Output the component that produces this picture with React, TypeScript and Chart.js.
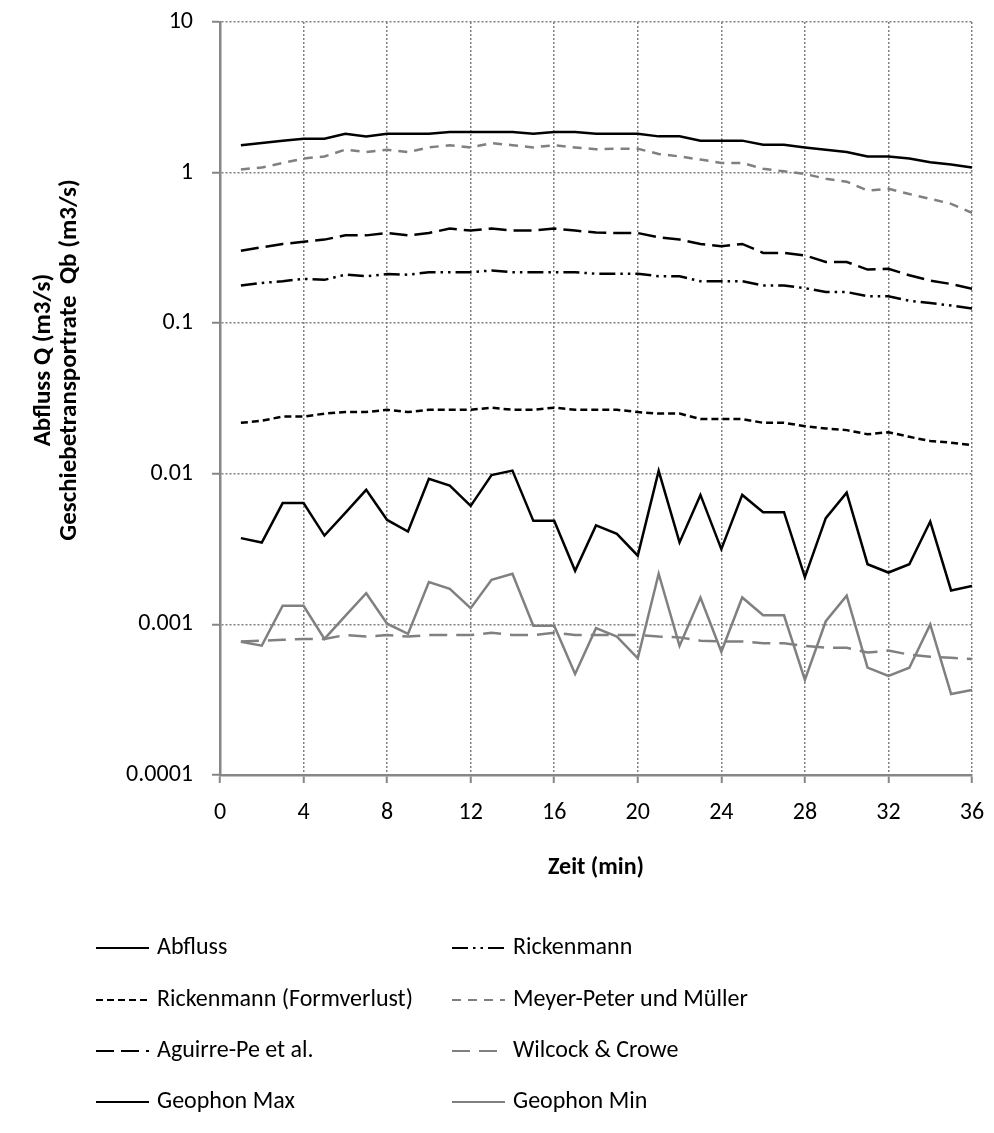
import React, { useEffect, useRef } from "react";
import { Chart, registerables } from "chart.js";

Chart.register(...registerables);

// ---- data ----
const zeit = [1, 2, 3, 4, 5, 6, 7, 8, 9, 10, 11, 12, 13, 14, 15, 16, 17, 18, 19, 20, 21, 22, 23, 24, 25, 26, 27, 28, 29, 30, 31, 32, 33, 34, 35, 36];

const abfluss = [1.52, 1.57, 1.63, 1.68, 1.68, 1.81, 1.74, 1.81, 1.81, 1.81, 1.86, 1.86, 1.86, 1.86, 1.81, 1.86, 1.86, 1.81, 1.81, 1.81, 1.74, 1.74, 1.63, 1.63, 1.63, 1.53, 1.53, 1.47, 1.42, 1.37, 1.28, 1.28, 1.24, 1.17, 1.13, 1.08];

const rickenmann = [0.178, 0.185, 0.19, 0.197, 0.194, 0.21, 0.205, 0.212, 0.21, 0.218, 0.218, 0.218, 0.224, 0.218, 0.218, 0.218, 0.218, 0.213, 0.213, 0.213, 0.205, 0.205, 0.19, 0.19, 0.19, 0.178, 0.178, 0.171, 0.161, 0.161, 0.151, 0.151, 0.141, 0.136, 0.131, 0.125];

const rickenmannForm = [0.0218, 0.0225, 0.024, 0.024, 0.0251, 0.0257, 0.0257, 0.0266, 0.0257, 0.0266, 0.0266, 0.0266, 0.0275, 0.0266, 0.0266, 0.0275, 0.0266, 0.0266, 0.0266, 0.0257, 0.0251, 0.0251, 0.0231, 0.0231, 0.0231, 0.0218, 0.0218, 0.0207, 0.02, 0.0195, 0.0183, 0.0189, 0.0176, 0.0165, 0.0161, 0.0155];

const meyerPeter = [1.05, 1.08, 1.16, 1.24, 1.28, 1.42, 1.37, 1.42, 1.37, 1.47, 1.52, 1.47, 1.57, 1.52, 1.47, 1.52, 1.47, 1.43, 1.44, 1.44, 1.33, 1.28, 1.22, 1.16, 1.16, 1.06, 1.02, 0.98, 0.91, 0.87, 0.76, 0.78, 0.72, 0.67, 0.62, 0.54];

const aguirrePe = [0.303, 0.319, 0.336, 0.347, 0.359, 0.383, 0.383, 0.397, 0.383, 0.397, 0.425, 0.412, 0.425, 0.412, 0.412, 0.425, 0.412, 0.4, 0.397, 0.397, 0.372, 0.359, 0.336, 0.324, 0.336, 0.293, 0.293, 0.282, 0.255, 0.255, 0.227, 0.23, 0.208, 0.192, 0.182, 0.169];

const wilcockCrowe = [0.00077, 0.00078, 0.00079, 0.0008, 0.0008, 0.00085, 0.00083, 0.00085, 0.00083, 0.00085, 0.00085, 0.00085, 0.00088, 0.00085, 0.00085, 0.00088, 0.00085, 0.00085, 0.00085, 0.00085, 0.00083, 0.00082, 0.00078, 0.00077, 0.00077, 0.00075, 0.00075, 0.00072, 0.0007, 0.0007, 0.00065, 0.00067, 0.00063, 0.00061, 0.0006, 0.00059];

const geophonMax = [0.00374, 0.0035, 0.00639, 0.00639, 0.00389, 0.0055, 0.00783, 0.00494, 0.00414, 0.00927, 0.00836, 0.00612, 0.0098, 0.0105, 0.00487, 0.00487, 0.00227, 0.00454, 0.00399, 0.00286, 0.01045, 0.0035, 0.00724, 0.00316, 0.00724, 0.00556, 0.00556, 0.00206, 0.00508, 0.0075, 0.00251, 0.00221, 0.00251, 0.00482, 0.00168, 0.0018];

const geophonMin = [0.000766, 0.000723, 0.00133, 0.00133, 0.000801, 0.00114, 0.00161, 0.00101, 0.000865, 0.00191, 0.00172, 0.00128, 0.00198, 0.00217, 0.00098, 0.00098, 0.000469, 0.000944, 0.00083, 0.000596, 0.00217, 0.00072, 0.00151, 0.000659, 0.00151, 0.00115, 0.00115, 0.000428, 0.00105, 0.00155, 0.000516, 0.000455, 0.000516, 0.001, 0.000345, 0.000367];

const yTickValues = [0.0001, 0.001, 0.01, 0.1, 1, 10];
const xMin = 0;
const xMax = 36;
const xStep = 4;

const xTitle = "Zeit (min)";
const yTitleLines = ["Abfluss Q (m3/s)", "Geschiebetransportrate  Qb (m3/s)"];

const FONT = "Carlito, Calibri, Lato, 'Open Sans', 'DejaVu Sans', sans-serif";
const BLACK = "#000000";
const GRAY = "#808080";
const AXIS = "#868686";

const toXY = (vals: number[]) => vals.map((v, i) => ({ x: zeit[i], y: v }));

const titlesAndLegend = {
  id: "titlesAndLegend",
  afterDraw(chart: any) {
    const ctx = chart.ctx;
    const area = chart.chartArea;
    ctx.save();
    ctx.fillStyle = "#000";
    ctx.font = `bold 24px ${FONT}`;
    ctx.textAlign = "center";
    ctx.textBaseline = "middle";
    // x title
    ctx.fillText(xTitle, (area.left + area.right) / 2, 868);
    // y title (two rotated lines)
    ctx.font = `bold 25px ${FONT}`;
    const yc = 360;
    const xs = [44, 70];
    yTitleLines.forEach((t, i) => {
      ctx.save();
      ctx.translate(xs[i], yc);
      ctx.rotate(-Math.PI / 2);
      ctx.fillText(t, 0, 0);
      ctx.restore();
    });
    // legend (two columns)
    ctx.font = `24px ${FONT}`;
    ctx.textAlign = "left";
    const rowY = [948, 1000, 1051, 1102];
    const colLine = [96, 452];
    const lineLen = 53;
    const textGap = 8;
    chart.data.datasets.forEach((d: any, i: number) => {
      const col = i % 2;
      const row = Math.floor(i / 2);
      const y = rowY[row];
      const x0 = colLine[col];
      ctx.save();
      ctx.strokeStyle = d.borderColor;
      ctx.lineWidth = 2;
      ctx.setLineDash(d.borderDash || []);
      ctx.beginPath();
      ctx.moveTo(x0, y);
      ctx.lineTo(x0 + lineLen, y);
      ctx.stroke();
      ctx.restore();
      ctx.fillStyle = "#000";
      ctx.fillText(d.label, x0 + lineLen + textGap, y);
    });
    ctx.restore();
  },
};

export default function App() {
  const ref = useRef<HTMLCanvasElement | null>(null);

  useEffect(() => {
    if (!ref.current) return;
    const mk = (label: string, vals: number[], color: string, dash: number[], width = 2.5) => ({
      label,
      data: toXY(vals),
      borderColor: color,
      backgroundColor: color,
      borderWidth: width,
      borderDash: dash,
      pointRadius: 0,
      tension: 0,
      fill: false,
    });
    const chart = new Chart(ref.current, {
      type: "line",
      data: {
        datasets: [
          mk("Abfluss", abfluss, BLACK, []),
          mk("Rickenmann", rickenmann, BLACK, [16, 5, 2.5, 5, 2.5, 5]),
          mk("Rickenmann (Formverlust)", rickenmannForm, BLACK, [7, 4]),
          mk("Meyer-Peter und Müller", meyerPeter, GRAY, [9, 7]),
          mk("Aguirre-Pe et al.", aguirrePe, BLACK, [18, 7]),
          mk("Wilcock & Crowe", wilcockCrowe, GRAY, [18, 9]),
          mk("Geophon Max", geophonMax, BLACK, []),
          mk("Geophon Min", geophonMin, GRAY, []),
        ],
      },
      options: {
        responsive: false,
        animation: false,
        devicePixelRatio: 1,
        layout: { padding: { top: 22, right: 22, left: 0, bottom: 0 } },
        plugins: {
          legend: { display: false },
          tooltip: { enabled: false },
          title: { display: false },
        },
        scales: {
          x: {
            type: "linear",
            min: xMin,
            max: xMax,
            ticks: {
              stepSize: xStep,
              color: "#000",
              font: { family: FONT, size: 24 },
              padding: 16,
              maxRotation: 0,
            },
            grid: {
              color: GRAY,
              lineWidth: 1.5,
              drawTicks: true,
              tickLength: 8,
              tickColor: AXIS,
              tickWidth: 2,
              tickBorderDash: [],
            },
            border: { display: true, color: AXIS, width: 2.5, dash: [2, 2] },
            afterFit: (s: any) => {
              s.height = 1133 - 775;
              s.paddingLeft = 0;
              s.paddingRight = 0;
            },
          },
          y: {
            type: "logarithmic",
            min: yTickValues[0],
            max: yTickValues[yTickValues.length - 1],
            afterBuildTicks: (s: any) => {
              s.ticks = yTickValues.map((v) => ({ value: v }));
            },
            ticks: {
              color: "#000",
              font: { family: FONT, size: 24 },
              padding: 19,
              autoSkip: false,
              callback: (v: any) => String(v),
            },
            grid: {
              color: GRAY,
              lineWidth: 1.5,
              drawTicks: true,
              tickLength: 8,
              tickColor: AXIS,
              tickWidth: 2,
              tickBorderDash: [],
            },
            border: { display: true, color: AXIS, width: 2.5, dash: [2, 2] },
            afterFit: (s: any) => {
              s.width = 220;
              s.paddingTop = 0;
              s.paddingBottom = 0;
            },
          },
        },
      },
      plugins: [titlesAndLegend],
    } as any);
    return () => chart.destroy();
  }, []);

  return (
    <div style={{ position: "absolute", left: 0, top: 0, width: 994, height: 1133, background: "#fff" }}>
      <canvas ref={ref} width={994} height={1133} style={{ display: "block" }} />
    </div>
  );
}
